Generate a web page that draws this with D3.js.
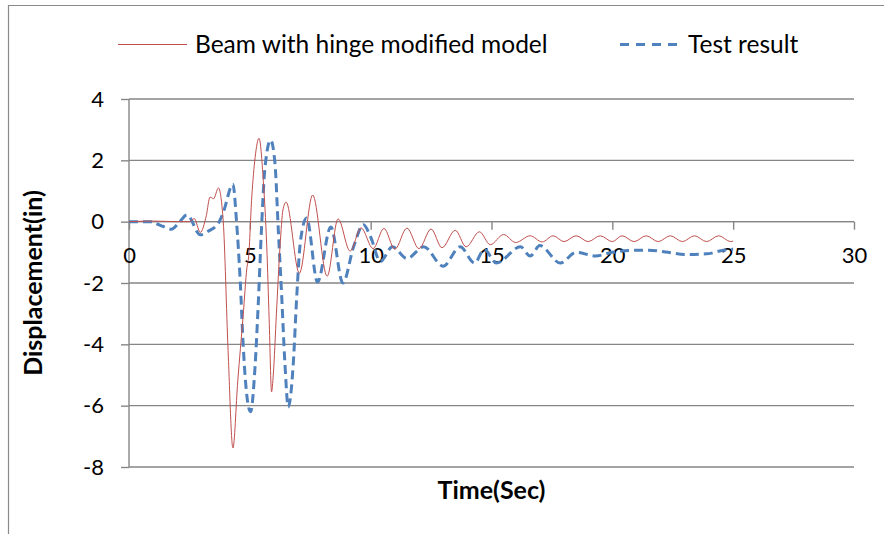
<!DOCTYPE html>
<html><head><meta charset="utf-8">
<script src="https://cdn.jsdelivr.net/npm/d3@7"></script>
<style>body{margin:0;background:#fff}svg{display:block}text{font-family:Lato,"Open Sans",sans-serif;fill:#000}</style>
</head><body><svg id="c" width="884" height="534"></svg>
<script>
const xTicks=[0,5,10,15,20,25,30];
const yTicks=[-8,-6,-4,-2,0,2,4];
const seriesNames=["Beam with hinge modified model","Test result"];
const beamT=[0,1,2,2.5,2.7,2.95,3.2,3.35,3.5,3.7,3.9,4.1,4.3,4.5,4.72,4.88,4.95,5.08,5.22,5.38,5.56,5.7,5.8,5.9,5.97,6.1,6.25,6.37,6.5,7.05,7.6,8.2,8.65,9.15,9.6,10.1,10.55,11.0,11.5,12.0,12.5,12.95,13.5,13.95,14.5,14.95,15.5,16.0,16.6,17.1,17.55,18.0,18.5,19.0,19.5,20.0,20.4,20.9,21.4,21.9,22.4,22.9,23.4,23.9,24.4,24.9,25];
const beamY=[0,0.02,0,0,0.1,-0.35,0.2,0.8,0.75,1.1,0,-4.2,-7.38,-5.2,-3.1,-1.5,-1.15,0.8,2.1,2.72,1.3,-0.8,-3.2,-5.55,-5.0,-3.0,-0.8,0.38,0.64,-1.68,0.87,-1.78,0.09,-0.96,-0.2,-0.88,-0.22,-0.9,-0.21,-0.88,-0.24,-0.85,-0.28,-0.82,-0.33,-0.75,-0.42,-0.68,-0.46,-0.66,-0.46,-0.65,-0.46,-0.65,-0.46,-0.65,-0.46,-0.65,-0.46,-0.65,-0.46,-0.65,-0.46,-0.65,-0.46,-0.65,-0.63];
const testT=[0,1.0,1.1,1.4,1.75,2.05,2.4,2.95,3.3,3.7,3.9,4.3,4.45,4.6,4.73,4.88,5.03,5.21,5.35,5.48,5.62,5.86,6.04,6.18,6.32,6.45,6.59,6.8,6.94,7.1,7.35,7.8,8.35,8.85,9.3,9.7,10.0,10.4,10.9,11.5,12.2,13.0,13.7,14.3,14.7,15.2,16.2,16.6,17.0,17.85,18.5,19.3,20.0,20.7,21.5,22.3,23.0,23.9,24.6,25];
const testY=[0,0,-0.05,-0.15,-0.25,-0.05,0.22,-0.43,-0.3,-0.05,0.3,1.22,0,-1.9,-4.1,-5.7,-6.2,-4.8,-2.65,-0.27,1.7,2.66,1.9,-0.3,-2.45,-4.6,-6.04,-4.6,-2.45,-0.6,0.12,-1.97,-0.17,-2.0,-0.8,-0.1,-0.5,-1.3,-0.82,-1.2,-0.82,-1.45,-0.82,-1.35,-0.9,-1.35,-0.82,-1.12,-0.78,-1.35,-1.0,-1.12,-1.0,-0.94,-0.93,-1.0,-1.07,-1.05,-0.93,-0.9];

const svg=d3.select("#c");
const grid="#868686", red="#C0504D", blue="#4F81BD";
// outer frame
svg.append("path").attr("d","M8.5,534 V5.5 H884").attr("fill","none").attr("stroke","#8a8a8a").attr("stroke-width",1.2);

const x=d3.scaleLinear().domain([0,30]).range([129,854]);
const y=d3.scaleLinear().domain([-8,4]).range([467,99]);
const fmt=d=>String(d);

// horizontal gridlines
svg.append("g").selectAll("line").data(yTicks).join("line")
  .attr("x1",x(0)).attr("x2",x(30)).attr("y1",d=>y(d)).attr("y2",d=>y(d))
  .attr("stroke",grid).attr("stroke-width",1.4);
// y axis
const ya=svg.append("g").attr("transform",`translate(${x(0)},0)`)
  .call(d3.axisLeft(y).tickValues(yTicks).tickSize(8).tickPadding(17).tickFormat(fmt));
ya.select(".domain").attr("stroke",grid).attr("stroke-width",1.4).attr("d",`M0,${y(4)}V${y(-8)}`);
ya.selectAll(".tick line").attr("stroke",grid).attr("stroke-width",1.4);
ya.selectAll("text").attr("font-size",22).style("font-family","Lato").attr("fill","#000");
// x axis at y=0
const xa=svg.append("g").attr("transform",`translate(0,${y(0)})`)
  .call(d3.axisBottom(x).tickValues(xTicks).tickSize(8).tickPadding(18).tickFormat(fmt));
xa.select(".domain").attr("stroke",grid).attr("stroke-width",1.4).attr("d",`M${x(0)},0H${x(30)}`);
xa.selectAll(".tick line").attr("stroke",grid).attr("stroke-width",1.4);
xa.selectAll("text").attr("font-size",22).style("font-family","Lato").attr("fill","#000");

const line=d3.line().x(d=>x(d[0])).y(d=>y(d[1])).curve(d3.curveMonotoneX);
const testData=d3.zip(testT,testY), beamData=d3.zip(beamT,beamY);
svg.append("path").attr("d",line(testData)).attr("fill","none").attr("stroke",blue)
  .attr("stroke-width",3).attr("stroke-dasharray","9,5");
svg.append("path").attr("d",line(beamData)).attr("fill","none").attr("stroke",red)
  .attr("stroke-width",1);

// legend
const lg=svg.append("g");
lg.append("line").attr("x1",118).attr("x2",187).attr("y1",44.5).attr("y2",44.5).attr("stroke",red).attr("stroke-width",1.2);
lg.append("text").attr("x",195).attr("y",53).attr("font-size",24.5).text(seriesNames[0]);
lg.append("line").attr("x1",620).attr("x2",680).attr("y1",44.5).attr("y2",44.5).attr("stroke",blue).attr("stroke-width",3).attr("stroke-dasharray","9,7");
lg.append("text").attr("x",688).attr("y",53).attr("font-size",24.5).text(seriesNames[1]);

// axis titles
svg.append("text").attr("x",491.5).attr("y",499).attr("text-anchor","middle").attr("font-size",25).attr("font-weight","bold").text("Time(Sec)");
svg.append("text").attr("transform","translate(42,283) rotate(-90)").attr("text-anchor","middle").attr("font-size",25).attr("font-weight","bold").text("Displacement(in)");
</script></body></html>
